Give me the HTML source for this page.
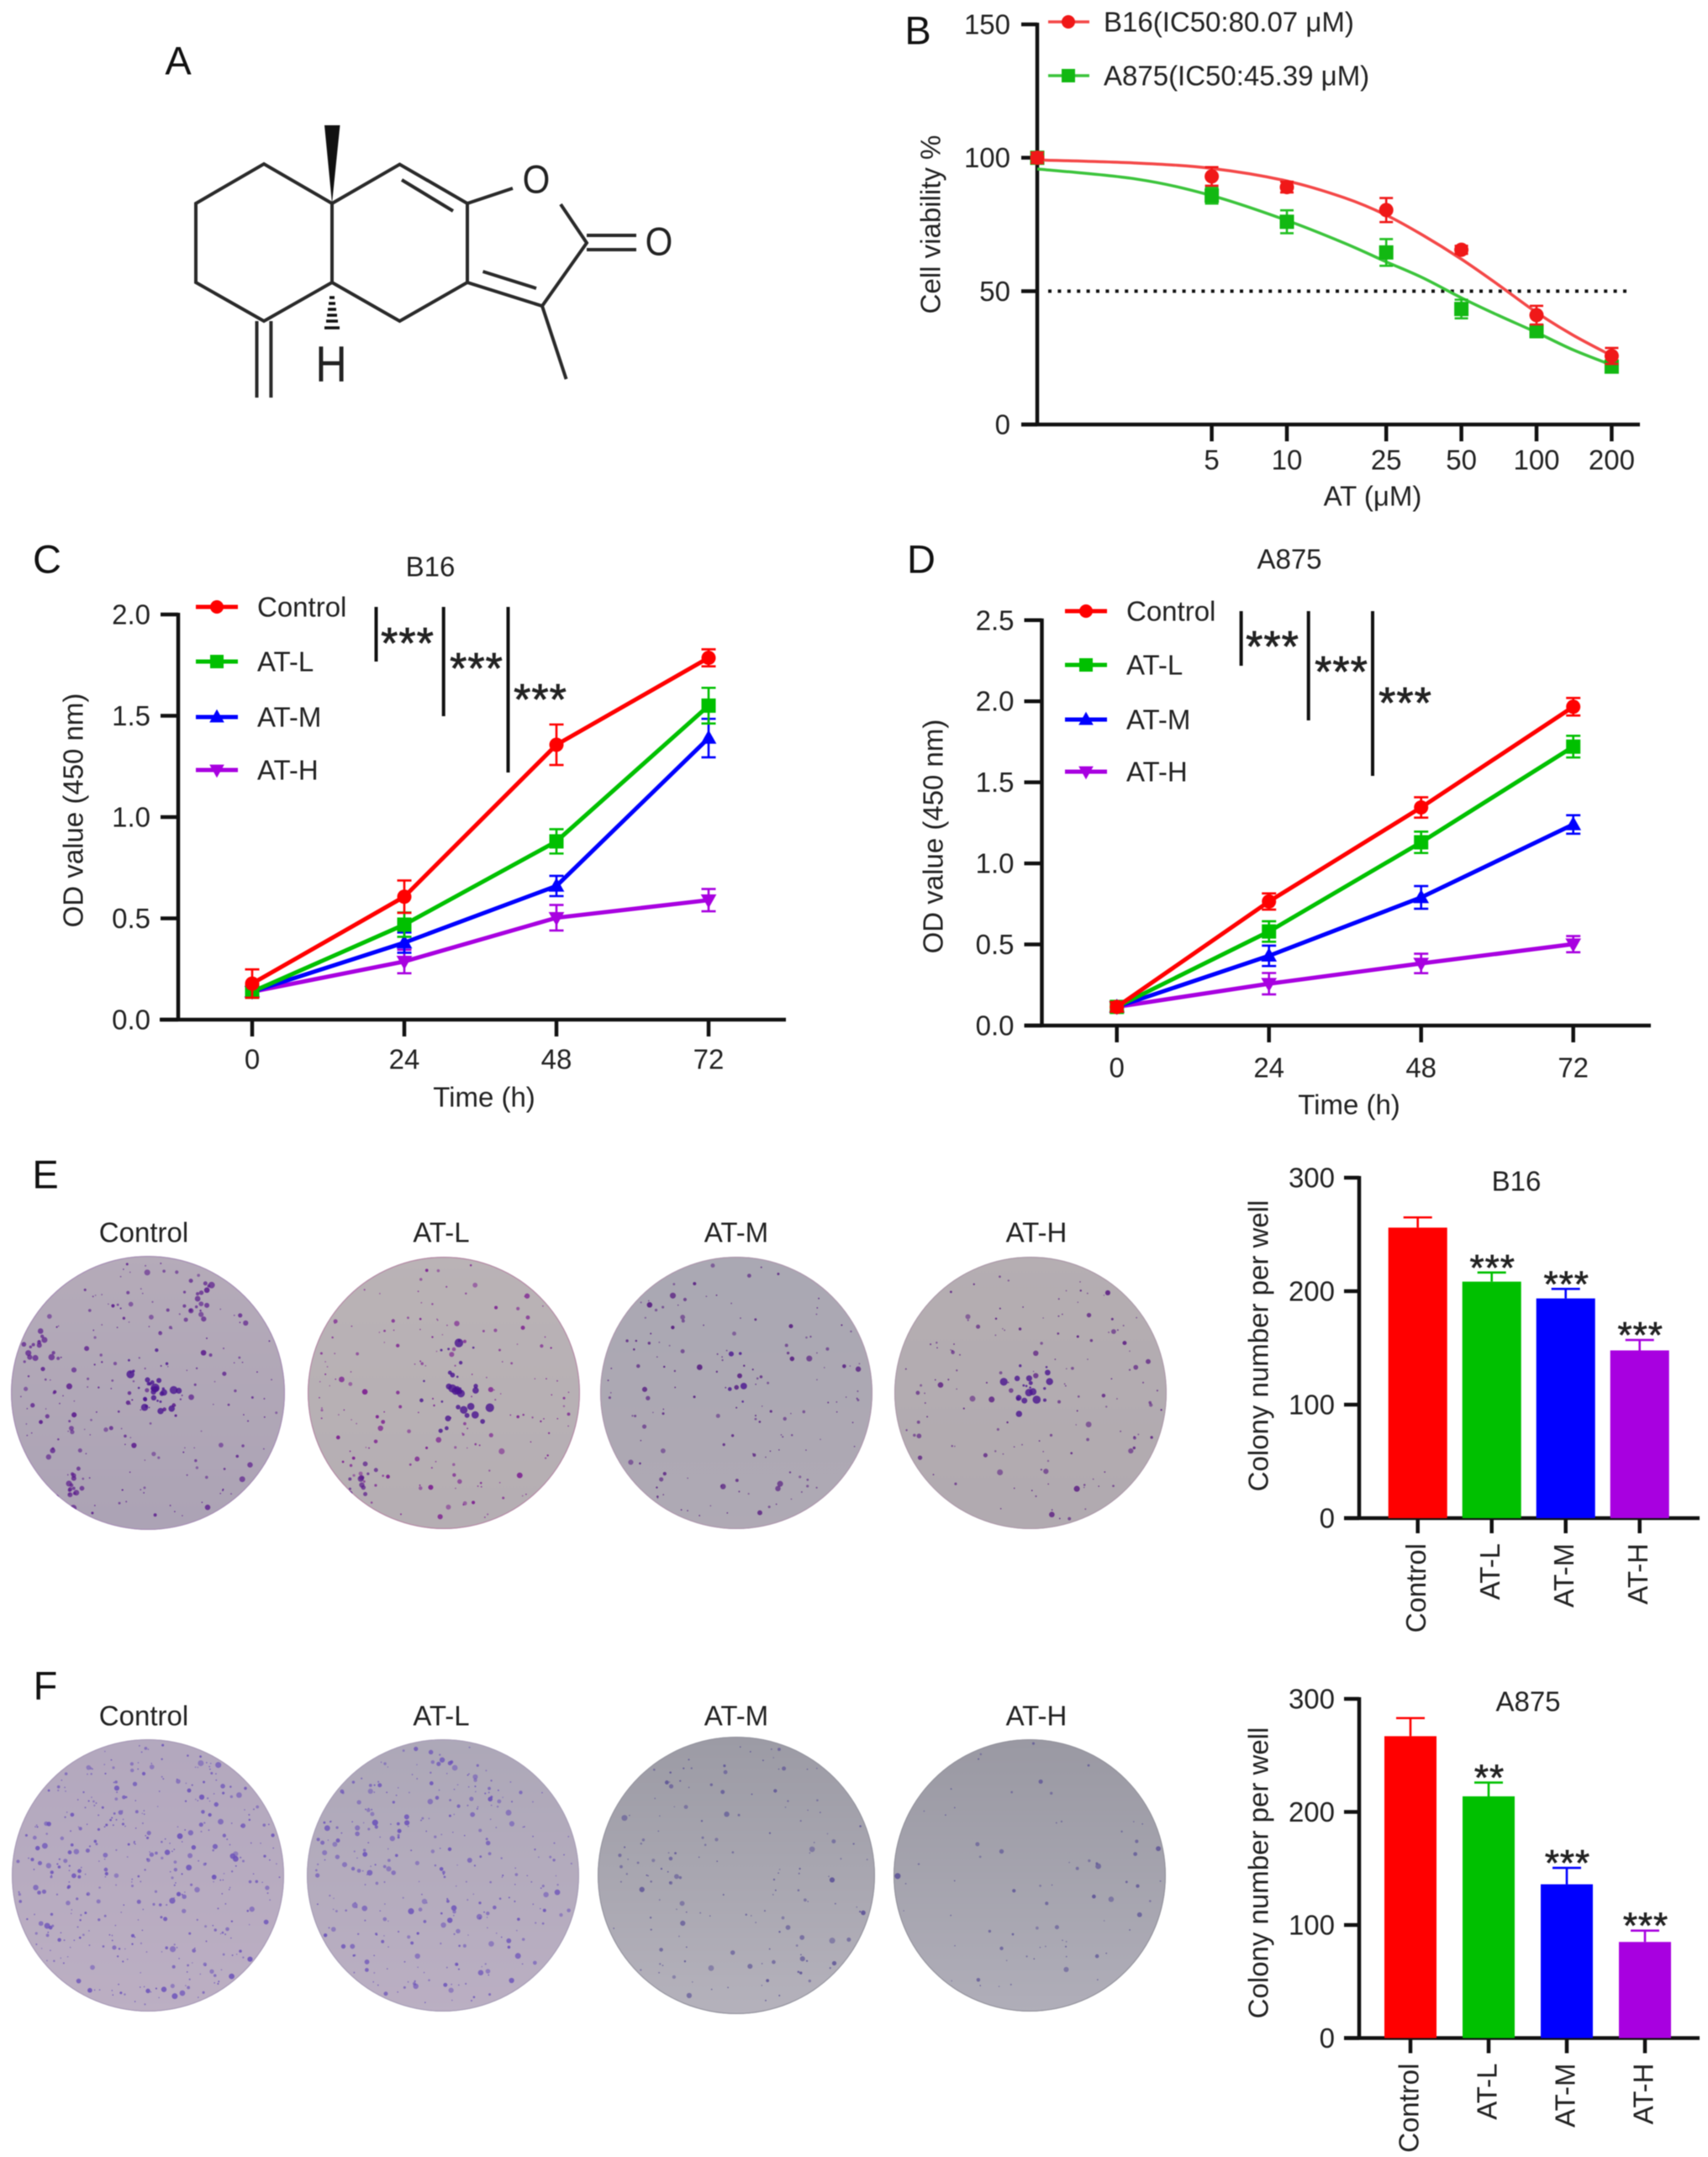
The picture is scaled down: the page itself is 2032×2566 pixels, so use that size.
<!DOCTYPE html>
<html lang="en">
<head>
<meta charset="utf-8">
<title>Cell viability and colony formation figure</title>
<style>
html,body{margin:0;padding:0;background:#fff;}
#figure{display:block;filter:blur(0.6px);}
text{font-family:"Liberation Sans",Arial,sans-serif;fill:#222;}
.t33{font-size:33px;}
.letter{font-size:47px;text-anchor:middle;dominant-baseline:central;fill:#111;}
.mid{text-anchor:middle;dominant-baseline:central;}
.star{font-size:52px;text-anchor:middle;fill:#222;letter-spacing:1px;stroke:#222;stroke-width:0.8;}
.bond{stroke:#2a2a2a;stroke-width:4;fill:none;stroke-linejoin:miter;}
</style>
</head>
<body>
<svg id="figure" xmlns="http://www.w3.org/2000/svg" width="2032" height="2566" viewBox="0 0 2032 2566">
<rect x="0" y="0" width="2032" height="2566" fill="#fff"/>
<defs id="defs"></defs>

<g>
  <text class="letter" x="212" y="72">A</text>
  <path class="bond" d="M395 242 L314 195 L233 242 L233 336 L314 382 L395 336 Z"/>
  <path class="bond" d="M395 242 L475.5 195.5 L556 242 L556 336 L475.5 382 L395 336"/>
  <path class="bond" d="M556 336 L645 364 L698 289 L667 243 M556 242 L610 224"/>
  <path class="bond" d="M478 214 L539 251 M574.5 323 L638 343"/>
  <path class="bond" d="M698 280 L757 280 M698 297 L757 297"/>
  <path class="bond" d="M645 364 L673.6 451"/>
  <path class="bond" d="M305.5 382 L305.5 473 M322.4 382 L322.4 473"/>
  <polygon points="395,242 386,149 404.5,149" fill="#111"/>
  <path d="M392 354 H398 M391 361 H399 M390 368 H400 M389 375 H401 M388 382 H402 M386 390 H404" stroke="#111" stroke-width="3.6" fill="none"/>
  <text class="mid" font-size="42" transform="translate(638,214) scale(1,1.12)">O</text>
  <text class="mid" font-size="42" transform="translate(784,288) scale(1,1.12)">O</text>
  <text class="mid" font-size="52" transform="translate(394,433) scale(1,1.16)">H</text>
</g>

<g id="panel-b">
  <text class="letter" x="1092" y="36">B</text>
  <text class="t33 mid" transform="translate(1107,267) rotate(-90)">Cell viability %</text>
  <text class="t33 mid" x="1633" y="590">AT (μM)</text>
  <text class="t33" x="1313" y="26" dominant-baseline="central">B16(IC50:80.07 μM)</text>
  <text class="t33" x="1313" y="90" dominant-baseline="central">A875(IC50:45.39 μM)</text>
</g>

<g id="panel-c">
  <text class="letter" x="56" y="665">C</text>
  <text class="t33 mid" x="512" y="674">B16</text>
  <text class="t33 mid" transform="translate(87,964) rotate(-90)">OD value (450 nm)</text>
  <text class="t33 mid" x="576" y="1305">Time (h)</text>
  <line x1="447.5" y1="722" x2="447.5" y2="787" stroke="#111" stroke-width="4"/>
  <line x1="527.7" y1="722" x2="527.7" y2="852" stroke="#111" stroke-width="4"/>
  <line x1="604.5" y1="722" x2="604.5" y2="919" stroke="#111" stroke-width="4"/>
  <text class="star" x="485" y="783">***</text>
  <text class="star" x="567" y="813">***</text>
  <text class="star" x="643" y="850">***</text>
</g>

<g id="panel-d">
  <text class="letter" x="1096" y="665">D</text>
  <text class="t33 mid" x="1534" y="665">A875</text>
  <text class="t33 mid" transform="translate(1110,995) rotate(-90)">OD value (450 nm)</text>
  <text class="t33 mid" x="1605" y="1314">Time (h)</text>
  <line x1="1476.6" y1="727" x2="1476.6" y2="792" stroke="#111" stroke-width="4"/>
  <line x1="1556.7" y1="727" x2="1556.7" y2="857" stroke="#111" stroke-width="4"/>
  <line x1="1633" y1="727" x2="1633" y2="923" stroke="#111" stroke-width="4"/>
  <text class="star" x="1514" y="787">***</text>
  <text class="star" x="1596" y="817">***</text>
  <text class="star" x="1672" y="854">***</text>
</g>

<g id="panel-e">
  <text class="letter" x="54" y="1397">E</text>
  <text class="t33 mid" x="171" y="1466">Control</text>
  <text class="t33 mid" x="525" y="1466">AT-L</text>
  <text class="t33 mid" x="876" y="1466">AT-M</text>
  <text class="t33 mid" x="1233" y="1466">AT-H</text>
  <text class="t33 mid" x="1804" y="1405">B16</text>
  <text class="t33 mid" transform="translate(1497,1601) rotate(-90)">Colony number per well</text>
</g>

<g id="panel-f">
  <text class="letter" x="54" y="2005">F</text>
  <text class="t33 mid" x="171" y="2041">Control</text>
  <text class="t33 mid" x="525" y="2041">AT-L</text>
  <text class="t33 mid" x="876" y="2041">AT-M</text>
  <text class="t33 mid" x="1233" y="2041">AT-H</text>
  <text class="t33 mid" x="1818" y="2024">A875</text>
  <text class="t33 mid" transform="translate(1497,2228) rotate(-90)">Colony number per well</text>
</g>
</svg>

<script>
/* ---------- Panel B data ---------- */
const doseTicks = [5, 10, 25, 50, 100, 200];
const doseMeasured = [1, 5, 10, 25, 50, 100, 200];
const viabilityTicks = [0, 50, 100, 150];
const b16Viability = [100, 93, 89, 80.4, 65.5, 41, 25.7];
const b16ViabilityErr = [2, 3.5, 2, 4.5, 1.5, 3.5, 3];
const a875Viability = [100, 85.8, 76, 64.5, 43.3, 35, 21.7];
const a875ViabilityErr = [2, 3, 4.3, 5, 3.5, 2.3, 2];
const curveDoses = [1, 2.5, 5, 10, 17, 25, 35, 50, 70, 100, 140, 200];
const b16Curve = [99.2, 98, 96, 91.3, 85, 78.5, 71, 62, 52.5, 42, 33.5, 25.8];
const a875Curve = [95.8, 92, 85.8, 76.5, 68, 61, 55, 47.5, 41, 34.5, 28, 22.3];
const thresholdValue = 50;

/* ---------- Panels C and D data ---------- */
const timeCategories = [0, 24, 48, 72];
const seriesNames = ['Control', 'AT-L', 'AT-M', 'AT-H'];
const odTicksC = ['0.0', '0.5', '1.0', '1.5', '2.0'];
const odTicksD = ['0.0', '0.5', '1.0', '1.5', '2.0', '2.5'];

const b16Control = [0.178, 0.607, 1.357, 1.786];
const b16ControlErr = [0.07, 0.08, 0.10, 0.042];
const b16AtL = [0.138, 0.469, 0.88, 1.55];
const b16AtLErr = [0.03, 0.06, 0.06, 0.088];
const b16AtM = [0.138, 0.38, 0.66, 1.39];
const b16AtMErr = [0.02, 0.05, 0.05, 0.095];
const b16AtH = [0.138, 0.287, 0.503, 0.59];
const b16AtHErr = [0.02, 0.058, 0.063, 0.055];

const a875Control = [0.115, 0.765, 1.345, 1.966];
const a875ControlErr = [0.03, 0.05, 0.063, 0.054];
const a875AtL = [0.115, 0.58, 1.13, 1.72];
const a875AtLErr = [0.03, 0.063, 0.066, 0.067];
const a875AtM = [0.115, 0.43, 0.79, 1.24];
const a875AtMErr = [0.03, 0.063, 0.07, 0.057];
const a875AtH = [0.115, 0.258, 0.383, 0.502];
const a875AtHErr = [0.03, 0.066, 0.06, 0.05];

/* ---------- Panels E and F data ---------- */
const colonyTicks = [0, 100, 200, 300];
const b16Colonies = [256, 208.4, 193.6, 147.8];
const b16ColoniesErr = [9, 8, 8.4, 9.2];
const b16Significance = ['', '***', '***', '***'];
const a875Colonies = [267, 213.8, 136, 85];
const a875ColoniesErr = [16, 12.2, 14.5, 10];
const a875Significance = ['', '**', '***', '***'];

const groupColors = ['#ff0000', '#00c000', '#0000ff', '#a800e0'];
const groupShapes = ['circle', 'square', 'up', 'down'];

const NS = 'http://www.w3.org/2000/svg';
const TICK = '#111';

function mk(tag, attrs, parent) {
  const node = document.createElementNS(NS, tag);
  for (const k in attrs) node.setAttribute(k, attrs[k]);
  parent.appendChild(node);
  return node;
}

function slug(v) {
  return String(v).toLowerCase().replace(/[^a-z0-9]+/g, '-');
}

function axisLine(parent, x1, y1, x2, y2, name) {
  const el = mk('line', {x1: x1, y1: y1, x2: x2, y2: y2, stroke: TICK, 'stroke-width': 4.5}, parent);
  
  
  return el;
}

function label(parent, x, y, str, anchor, name, size) {
  const el = mk('text', {x: x, y: y, 'text-anchor': anchor, 'dominant-baseline': 'central', 'font-size': size || 33}, parent);
  el.textContent = str;
  
  
  return el;
}

function marker(parent, shape, x, y, color, s, name) {
  let el;
  if (shape === 'circle') {
    el = mk('circle', {cx: x, cy: y, r: s, fill: color}, parent);
  } else if (shape === 'square') {
    el = mk('rect', {x: x - s, y: y - s, width: 2 * s, height: 2 * s, fill: color}, parent);
  } else if (shape === 'up') {
    el = mk('polygon', {points: (x) + ',' + (y - s * 1.15) + ' ' + (x + s * 1.1) + ',' + (y + s * 0.8) + ' ' + (x - s * 1.1) + ',' + (y + s * 0.8), fill: color}, parent);
  } else {
    el = mk('polygon', {points: (x) + ',' + (y + s * 1.15) + ' ' + (x + s * 1.1) + ',' + (y - s * 0.8) + ' ' + (x - s * 1.1) + ',' + (y - s * 0.8), fill: color}, parent);
  }
  
  
  return el;
}

function errorBar(parent, x, yLo, yHi, color, halfCap, name) {
  const d = 'M' + x + ' ' + yLo + 'V' + yHi + 'M' + (x - halfCap) + ' ' + yHi + 'H' + (x + halfCap) + 'M' + (x - halfCap) + ' ' + yLo + 'H' + (x + halfCap);
  const el = mk('path', {d: d, stroke: color, 'stroke-width': 2.6, fill: 'none'}, parent);
  
  
  return el;
}

/* ---------- Panel B: dose response ---------- */
(function () {
  const g = document.getElementById('panel-b');
  const x = d => 1234 + 297 * Math.log10(d);
  const y = v => 505 - (v / 150) * 476;

  axisLine(g, 1234, y(150) - 2, 1234, y(0) + 2, 'y-axis-b');
  axisLine(g, 1215, y(0), 1951, y(0), 'x-axis-b');
  viabilityTicks.forEach(t => {
    axisLine(g, 1215, y(t), 1234, y(t), 'y-tick-b-' + t);
    label(g, 1202, y(t), t, 'end', 'y-tick-label-b-' + t);
  });
  doseTicks.forEach(t => {
    axisLine(g, x(t), y(0), x(t), y(0) + 20, 'x-tick-b-' + t);
    label(g, x(t), 547, t, 'middle', 'x-tick-label-b-' + t);
  });

  const dotted = mk('line', {x1: 1247, y1: y(thresholdValue), x2: 1938, y2: y(thresholdValue), stroke: '#111', 'stroke-width': 4, 'stroke-dasharray': '4 7.4'}, g);
  
  

  function smoothPath(doses, vals) {
    const p = doses.map((d, i) => [x(d), y(vals[i])]);
    let s = 'M' + p[0][0] + ' ' + p[0][1];
    for (let i = 0; i < p.length - 1; i++) {
      const a = p[Math.max(i - 1, 0)], b = p[i], c = p[i + 1], e = p[Math.min(i + 2, p.length - 1)];
      s += 'C' + (b[0] + (c[0] - a[0]) / 6) + ' ' + (b[1] + (c[1] - a[1]) / 6) + ' ' + (c[0] - (e[0] - b[0]) / 6) + ' ' + (c[1] - (e[1] - b[1]) / 6) + ' ' + c[0] + ' ' + c[1];
    }
    return s;
  }

  const a875Col = '#20bf20', a875Line = '#3cc43c', b16Col = '#f01818', b16Line = '#f44848';

  const curveA = mk('path', {d: smoothPath(curveDoses, a875Curve), fill: 'none', stroke: a875Line, 'stroke-width': 3.5}, g);
  
  
  doseMeasured.forEach((d, i) => {
    errorBar(g, x(d), y(a875Viability[i] - a875ViabilityErr[i]), y(a875Viability[i] + a875ViabilityErr[i]), a875Col, 8, 'error-bar-a875-' + d);
    marker(g, 'square', x(d), y(a875Viability[i]), '#12b812', 8.5, 'point-a875-' + d);
  });

  const curveB = mk('path', {d: smoothPath(curveDoses, b16Curve), fill: 'none', stroke: b16Line, 'stroke-width': 3.5}, g);
  
  
  doseMeasured.forEach((d, i) => {
    errorBar(g, x(d), y(b16Viability[i] - b16ViabilityErr[i]), y(b16Viability[i] + b16ViabilityErr[i]), b16Col, 8, 'error-bar-b16-' + d);
    marker(g, 'circle', x(d), y(b16Viability[i]), b16Col, 8.5, 'point-b16-' + d);
  });

  const legA = mk('line', {x1: 1247, y1: 26, x2: 1296, y2: 26, stroke: b16Line, 'stroke-width': 3.5}, g);
  
  
  marker(g, 'circle', 1271, 26, b16Col, 8, 'legend-marker-b16');
  const legB = mk('line', {x1: 1247, y1: 90, x2: 1296, y2: 90, stroke: a875Line, 'stroke-width': 3.5}, g);
  
  
  marker(g, 'square', 1271, 90, '#12b812', 8, 'legend-marker-a875');
})();

/* ---------- Panels C and D: growth curves ---------- */
function drawGrowth(opts) {
  const g = document.getElementById(opts.id);
  const x = opts.x, y = opts.y;
  const tag = opts.tag;

  axisLine(g, opts.axisX, y(Number(opts.ticks[opts.ticks.length - 1])) - 2, opts.axisX, opts.axisY + 2, 'y-axis-' + tag);
  axisLine(g, opts.axisX0, opts.axisY, opts.axisX1, opts.axisY, 'x-axis-' + tag);
  opts.ticks.forEach(t => {
    axisLine(g, opts.axisX - 21, y(Number(t)), opts.axisX, y(Number(t)), 'y-tick-' + tag + '-' + slug(t));
    label(g, opts.axisX - 33, y(Number(t)), t, 'end', 'y-tick-label-' + tag + '-' + slug(t));
  });
  timeCategories.forEach(t => {
    axisLine(g, x(t), opts.axisY, x(t), opts.axisY + 20, 'x-tick-' + tag + '-' + t);
    label(g, x(t), opts.tickLabelY, t, 'middle', 'x-tick-label-' + tag + '-' + t);
  });

  for (let s = opts.values.length - 1; s >= 0; s--) {
    const vals = opts.values[s], errs = opts.errors[s], color = groupColors[s], nm = slug(seriesNames[s]);
    const pts = timeCategories.map((t, i) => x(t) + ',' + y(vals[i])).join(' ');
    const line = mk('polyline', {points: pts, fill: 'none', stroke: color, 'stroke-width': 5}, g);
    
    
    timeCategories.forEach((t, i) => {
      errorBar(g, x(t), y(vals[i] - errs[i]), y(vals[i] + errs[i]), color, 8.5, 'error-bar-' + tag + '-' + nm + '-' + t);
      marker(g, groupShapes[s], x(t), y(vals[i]), color, 8.5, 'point-' + tag + '-' + nm + '-' + t);
    });
  }

  seriesNames.forEach((n, s) => {
    const ly = opts.legendY[s];
    const l = mk('line', {x1: opts.legendX, y1: ly, x2: opts.legendX + 50, y2: ly, stroke: groupColors[s], 'stroke-width': 5}, g);
    
    
    marker(g, groupShapes[s], opts.legendX + 25, ly, groupColors[s], 8, 'legend-marker-' + tag + '-' + slug(n));
    label(g, opts.legendX + 73, ly, n, 'start', 'legend-label-' + tag + '-' + slug(n));
  });
}

drawGrowth({
  id: 'panel-c', tag: 'c',
  x: h => 300 + h * 181 / 24,
  y: v => 1213 - v * 241,
  axisX: 212, axisX0: 190, axisX1: 935, axisY: 1213, tickLabelY: 1260,
  ticks: odTicksC,
  values: [b16Control, b16AtL, b16AtM, b16AtH],
  errors: [b16ControlErr, b16AtLErr, b16AtMErr, b16AtHErr],
  legendX: 233, legendY: [722, 787, 853, 916]
});

drawGrowth({
  id: 'panel-d', tag: 'd',
  x: h => 1328.7 + h * 181 / 24,
  y: v => 1220 - v * 192.9,
  axisX: 1239.5, axisX0: 1219, axisX1: 1964, axisY: 1220, tickLabelY: 1270,
  ticks: odTicksD,
  values: [a875Control, a875AtL, a875AtM, a875AtH],
  errors: [a875ControlErr, a875AtLErr, a875AtMErr, a875AtHErr],
  legendX: 1267, legendY: [727, 791, 856, 918]
});

/* ---------- Panels E and F: colony bars ---------- */
function drawBars(opts) {
  const g = document.getElementById(opts.id);
  const tag = opts.tag, y = opts.y, x = opts.x;
  axisLine(g, 1617, y(300) - 2, 1617, y(0) + 2, 'y-axis-' + tag);
  axisLine(g, 1599, y(0), 2022, y(0), 'x-axis-' + tag);
  colonyTicks.forEach(t => {
    axisLine(g, 1599, y(t), 1617, y(t), 'y-tick-' + tag + '-' + t);
    label(g, 1588, y(t), t, 'end', 'y-tick-label-' + tag + '-' + t);
  });
  seriesNames.forEach((n, i) => {
    const nm = slug(n), cx = x(i), color = groupColors[i];
    const stem = mk('path', {d: 'M' + cx + ' ' + y(opts.values[i]) + 'V' + y(opts.values[i] + opts.errors[i]) + 'M' + (cx - 17) + ' ' + y(opts.values[i] + opts.errors[i]) + 'H' + (cx + 17), stroke: color, 'stroke-width': 2.6, fill: 'none'}, g);
    
    
    const bar = mk('rect', {x: cx - opts.barW / 2, y: y(opts.values[i]), width: opts.barW, height: y(0) - y(opts.values[i]), fill: color}, g);
    
    
    axisLine(g, cx, y(0), cx, y(0) + 18, 'x-tick-' + tag + '-' + nm);
    const lab = mk('text', {'font-size': 33, 'text-anchor': 'end', 'dominant-baseline': 'central', transform: 'translate(' + (cx - 2) + ',' + (y(0) + 30) + ') rotate(-90)'}, g);
    lab.textContent = n;
    
    
    if (opts.sig[i]) {
      const st = mk('text', {x: cx + 1, y: y(opts.values[i] + opts.errors[i]) - 16 + 25, 'font-size': 44, 'text-anchor': 'middle', 'letter-spacing': 1, stroke: '#222', 'stroke-width': 0.7}, g);
      st.textContent = opts.sig[i];
      
      
    }
  });
}

drawBars({
  id: 'panel-e', tag: 'e',
  x: i => 1686.7 + i * 88,
  y: v => 1806 - v * 1.35,
  barW: 70,
  values: b16Colonies, errors: b16ColoniesErr, sig: b16Significance
});

drawBars({
  id: 'panel-f', tag: 'f',
  x: i => 1678 + i * 93,
  y: v => 2424.5 - v * 1.345,
  barW: 62,
  values: a875Colonies, errors: a875ColoniesErr, sig: a875Significance
});

/* ---------- Colony plate photographs (texture only, not chart data) ---------- */
const plateTextures = [
  {panel: 'panel-e', name: 'plate-e-control', cx: 176, cy: 1657, r: 163, top: '#b5abb9', bottom: '#aca3b5', edge: '#a78fb5', dot: '#5a1a8c', dots: 200, cluster: 30, ccx: 182, ccy: 1650, cr: 40, hot: [[235, 1545, 28, 14], [48, 1600, 20, 12], [85, 1770, 26, 14]]},
  {panel: 'panel-e', name: 'plate-e-at-l', cx: 528, cy: 1657, r: 162, top: '#bab3b6', bottom: '#b5aeb3', edge: '#b58aa6', dot: '#7a1a90', dots: 170, cluster: 34, ccx: 544, ccy: 1655, cr: 46, hot: [[430, 1760, 22, 12]]},
  {panel: 'panel-e', name: 'plate-e-at-m', cx: 876, cy: 1657, r: 162, top: '#aaa8b3', bottom: '#afa9b4', edge: '#ad97ad', dot: '#551a80', dots: 150, cluster: 5, ccx: 882, ccy: 1660, cr: 38, hot: []},
  {panel: 'panel-e', name: 'plate-e-at-h', cx: 1226, cy: 1657, r: 162, top: '#b5aeb2', bottom: '#b1aab0', edge: '#ad9aaa', dot: '#5a1a82', dots: 140, cluster: 20, ccx: 1222, ccy: 1650, cr: 30, hot: []},
  {panel: 'panel-f', name: 'plate-f-control', cx: 176, cy: 2231, r: 162, top: '#b3a8be', bottom: '#bcafc3', edge: '#a99bb8', dot: '#6a50ba', dots: 420, cluster: 0, ccx: 177, ccy: 2231, cr: 40, hot: []},
  {panel: 'panel-f', name: 'plate-f-at-l', cx: 527, cy: 2231, r: 162, top: '#ada8b8', bottom: '#bbafc3', edge: '#a89eb7', dot: '#6a50ba', dots: 320, cluster: 0, ccx: 529, ccy: 2231, cr: 40, hot: []},
  {panel: 'panel-f', name: 'plate-f-at-m', cx: 876, cy: 2231, r: 165, top: '#9c9ba5', bottom: '#b5b2bc', edge: '#9695a0', dot: '#5c5296', dots: 150, cluster: 0, ccx: 878, ccy: 2231, cr: 40, hot: []},
  {panel: 'panel-f', name: 'plate-f-at-h', cx: 1225, cy: 2231, r: 162, top: '#9a99a3', bottom: '#b0aeb9', edge: '#94939d', dot: '#5c5296', dots: 70, cluster: 0, ccx: 1229, ccy: 2231, cr: 40, hot: []}
];

let textureSeed = 40213;
function textureNext() {
  textureSeed = (textureSeed * 1664525 + 1013904223) % 4294967296;
  return textureSeed / 4294967296;
}

(function () {
  const defs = document.getElementById('defs');
  plateTextures.forEach(p => {
    const parent = document.getElementById(p.panel);
    const grad = mk('linearGradient', {id: 'grad-' + p.name, x1: 0, y1: 0, x2: 0, y2: 1}, defs);
    mk('stop', {offset: '0%', 'stop-color': p.top}, grad);
    mk('stop', {offset: '100%', 'stop-color': p.bottom}, grad);
    const clip = mk('clipPath', {id: 'clip-' + p.name}, defs);
    mk('circle', {cx: p.cx, cy: p.cy, r: p.r}, clip);

    const group = mk('g', {'clip-path': 'url(#clip-' + p.name + ')'}, parent);
    
    

    const disc = mk('circle', {cx: p.cx, cy: p.cy, r: p.r, fill: 'url(#grad-' + p.name + ')', stroke: p.edge, 'stroke-width': 2.4}, group);
    
    

    for (let i = 0; i < p.dots; i++) {
      const rad = p.r * 0.97 * Math.sqrt(textureNext());
      const ang = textureNext() * Math.PI * 2;
      const u = textureNext();
      const dot = mk('circle', {cx: p.cx + rad * Math.cos(ang), cy: p.cy + rad * Math.sin(ang), r: 0.8 + u * u * u * 2.8, fill: p.dot, 'fill-opacity': 0.5 + textureNext() * 0.4}, group);
      
      
    }
    for (let i = 0; i < p.cluster; i++) {
      const rad = p.cr * textureNext();
      const ang = textureNext() * Math.PI * 2;
      const u = textureNext();
      const dot = mk('circle', {cx: p.ccx + rad * Math.cos(ang), cy: p.ccy + rad * Math.sin(ang) * 1.4, r: 1.3 + u * u * 4, fill: '#4a1490', 'fill-opacity': 0.8}, group);
      
      
    }
    p.hot.forEach(h => {
      for (let i = 0; i < h[3]; i++) {
        const rad = h[2] * textureNext();
        const ang = textureNext() * Math.PI * 2;
        const dot = mk('circle', {cx: h[0] + rad * Math.cos(ang), cy: h[1] + rad * Math.sin(ang), r: 1.5 + textureNext() * 2.5, fill: '#5a1a8c', 'fill-opacity': 0.7}, group);
        
        
      }
    });
  });
})();
</script>
</body>
</html>
